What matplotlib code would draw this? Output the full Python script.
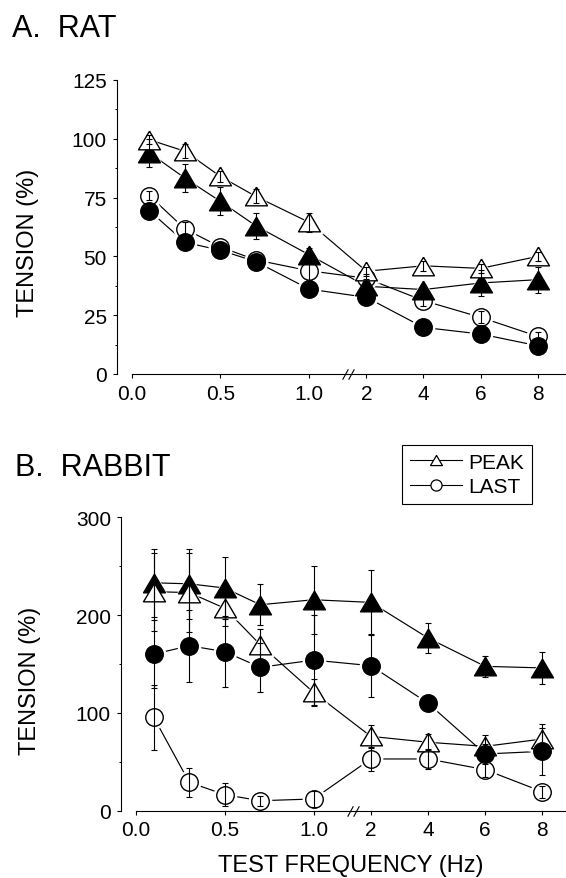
import numpy as np
import matplotlib
matplotlib.use("Agg")
import matplotlib.pyplot as plt
from matplotlib.lines import Line2D
from matplotlib.ticker import MultipleLocator, NullLocator

plt.rcParams['font.family'] = ['Liberation Sans', 'DejaVu Sans']

# ---------------- data ----------------
freq = [0.1, 0.3, 0.5, 0.7, 1.0, 2, 4, 6, 8]
xtick_vals = [0, 0.5, 1.0, 2, 4, 6, 8]
xtick_labels = ['0.0', '0.5', '1.0', '2', '4', '6', '8']

rat_yticks = [0, 25, 50, 75, 100, 125]
rabbit_yticks = [0, 100, 200, 300]

rat_peak_open = [99.6, 94.7, 84.0, 75.5, 64.5, 43.7, 46.0, 44.9, 50.0]
rat_peak_open_err = [2, 3, 2.5, 3, 4, 2, 2, 2, 2]
rat_peak_filled = [94.0, 83.3, 73.4, 63.0, 50.7, 37.3, 35.9, 38.7, 40.1]
rat_peak_filled_err = [6, 6, 6, 5.5, 3, 3, 2, 5.5, 5.5]
rat_last_open = [75.8, 61.7, 54.0, 48.5, 43.9, 40.7, 31.2, 24.1, 16.0]
rat_last_open_err = [2, 3, 2, 2, 4, 2, 2.5, 2.5, 2]
rat_last_filled = [69.4, 56.0, 52.6, 47.8, 36.1, 32.6, 19.8, 17.0, 12.0]
rat_last_filled_err = [2, 2, 2, 2, 2, 2, 1.5, 2, 1.5]

rabbit_peak_open = [224, 223, 207, 169.7, 121, 76, 70, 65.8, 73.3]
rabbit_peak_open_err = [40, 40, 18, 16, 14, 12, 8, 12, 15]
rabbit_peak_filled = [233, 232, 227.7, 210.6, 215.7, 213, 176.6, 147.6, 146]
rabbit_peak_filled_err = [35, 36, 32, 21, 35, 33, 15, 11, 16]
rabbit_last_open = [95.5, 29, 16.4, 10.2, 12, 52.9, 52.9, 42, 19.4]
rabbit_last_open_err = [33, 15, 12, 5, 8, 12, 10, 8, 6]
rabbit_last_filled = [160, 168.7, 162.6, 146.6, 154, 148.3, 110, 58, 60.7]
rabbit_last_filled_err = [35, 37, 36, 25, 46, 32, 5, 10, 24]

# ---------------- broken x scale ----------------
B1 = 1.323   # position of 2 Hz in units of the 0-1 segment
S = 0.161    # width of 1 Hz beyond 2 Hz


def fwd(x):
    x = np.asarray(x, float)
    return np.where(x <= 1, x, np.where(x <= 2, 1 + (x - 1) * (B1 - 1), B1 + (x - 2) * S))


def inv(p):
    p = np.asarray(p, float)
    return np.where(p <= 1, p, np.where(p <= B1, 1 + (p - 1) / (B1 - 1), 2 + (p - B1) / S))


TRI = [(0, 0.85), (-1, -0.85), (1, -0.85), (0, 0.85)]
MS_TRI = 15.8
MS_CIR = 12.6

W, H = 566, 879
fig = plt.figure(figsize=(W / 100, H / 100), dpi=100)


def series(ax, y, err, marker, ms, filled, mz):
    ax.plot(freq, y, color='k', lw=0.85, zorder=1, clip_on=False)
    ax.plot(freq, y, ls='none', marker=marker, ms=ms + 4.5, mfc='white', mec='white',
            mew=0, zorder=2, clip_on=False)
    ax.plot(freq, y, ls='none', marker=marker, ms=ms, mfc='k' if filled else 'white',
            mec='k', mew=1.0, zorder=mz, clip_on=False)
    ax.errorbar(freq, y, yerr=err, fmt='none', ecolor='k', elinewidth=0.8, capsize=2.3,
                capthick=0.8, zorder=6, clip_on=False)


def style(ax, xmin, xmax, ymax, yticks, minor):
    ax.set_xscale('function', functions=(fwd, inv))
    ax.set_xlim(xmin, xmax)
    ax.set_ylim(0, ymax)
    for s in ['top', 'right']:
        ax.spines[s].set_visible(False)
    ax.spines['bottom'].set_bounds(0, xmax)
    ax.spines['left'].set_linewidth(0.8)
    ax.spines['bottom'].set_linewidth(0.8)
    ax.set_xticks(xtick_vals, xtick_labels)
    ax.xaxis.set_minor_locator(NullLocator())
    ax.set_yticks(yticks)
    ax.yaxis.set_minor_locator(MultipleLocator(minor))
    ax.tick_params(axis='both', which='major', direction='out', length=3, width=0.8,
                   labelsize=15, pad=4)
    ax.tick_params(axis='y', which='minor', direction='out', length=1.8, width=0.7)
    ax.patch.set_alpha(0)


def breakmark(ax, xs):
    slash = [(-0.55, -1), (0.55, 1)]
    ax.plot(xs, [0, 0], ls='none', marker=slash, ms=7.5, mec='k', mew=0.8,
            zorder=7, clip_on=False)


# ---------------- panel A ----------------
axA = fig.add_axes([116.7 / W, 1 - 375 / H, 1 - 116.7 / W, 294 / H])
style(axA, -0.0845, 8.99, 125, rat_yticks, 12.5)
series(axA, rat_last_open, rat_last_open_err, 'o', MS_CIR, False, 4.0)
series(axA, rat_peak_filled, rat_peak_filled_err, TRI, MS_TRI, True, 4.1)
series(axA, rat_peak_open, rat_peak_open_err, TRI, MS_TRI, False, 4.2)
series(axA, rat_last_filled, rat_last_filled_err, 'o', MS_CIR, True, 4.3)
breakmark(axA, [1.63, 1.735])
axA.set_ylabel('TENSION (%)', fontsize=17, ha='center', va='center')
axA.yaxis.set_label_coords(-0.1974, 0.4507)

# ---------------- panel B ----------------
axB = fig.add_axes([120.7 / W, 1 - 811.7 / H, 1 - 120.7 / W, 293.4 / H])
style(axB, -0.0863, 8.83, 300, rabbit_yticks, 50)
series(axB, rabbit_last_open, rabbit_last_open_err, 'o', MS_CIR, False, 4.0)
series(axB, rabbit_peak_filled, rabbit_peak_filled_err, TRI, MS_TRI, True, 4.1)
series(axB, rabbit_peak_open, rabbit_peak_open_err, TRI, MS_TRI, False, 4.2)
series(axB, rabbit_last_filled, rabbit_last_filled_err, 'o', MS_CIR, True, 4.3)
breakmark(axB, [1.64, 1.745])
axB.set_ylabel('TENSION (%)', fontsize=17, ha='center', va='center')
axB.yaxis.set_label_coords(-0.2037, 0.4455)
axB.set_xlabel('TEST FREQUENCY (Hz)', fontsize=17, ha='center', va='center')
axB.xaxis.set_label_coords(0.516, -0.185)

handles = [
    Line2D([0], [0], color='k', lw=0.8, marker=TRI, ms=8.6, mfc='white', mec='k', mew=0.9),
    Line2D([0], [0], color='k', lw=0.8, marker='o', ms=8.0, mfc='white', mec='k', mew=0.9),
]
leg = axB.legend(handles, ['PEAK', 'LAST'], loc='upper left',
                 bbox_to_anchor=(402 / W, 1 - 446 / H), bbox_transform=fig.transFigure,
                 fontsize=15, frameon=True, fancybox=False, framealpha=1,
                 edgecolor='k', borderpad=0.37, labelspacing=0.25,
                 handlelength=2.5, handletextpad=0.32, borderaxespad=0)
leg.get_frame().set_linewidth(0.8)

# ---------------- panel titles ----------------
fig.text(12 / W, 1 - 37 / H, 'A.  RAT', fontsize=22, ha='left', va='baseline')
fig.text(15 / W, 1 - 476 / H, 'B.  RABBIT', fontsize=22, ha='left', va='baseline')

fig.savefig('out.png', dpi=100)
